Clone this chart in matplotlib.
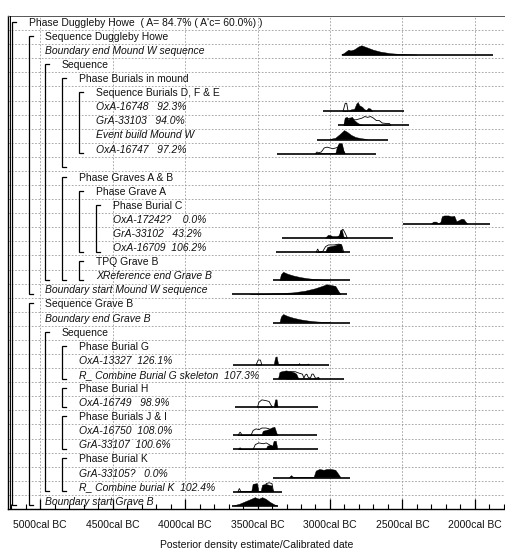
import matplotlib
matplotlib.use("Agg")
from matplotlib import pyplot as plt
from matplotlib.transforms import blended_transform_factory

plt.rcParams['font.family'] = ['Liberation Sans', 'DejaVu Sans']

# one entry per row, top to bottom
labels = [
    "Phase Duggleby Howe  ( A= 84.7% ( A'c= 60.0%) )",
    "Sequence Duggleby Howe",
    "Boundary end Mound W sequence",
    "Sequence",
    "Phase Burials in mound",
    "Sequence Burials D, F & E",
    "OxA-16748   92.3%",
    "GrA-33103   94.0%",
    "Event build Mound W",
    "OxA-16747   97.2%",
    "",
    "Phase Graves A & B",
    "Phase Grave A",
    "Phase Burial C",
    "OxA-17242?    0.0%",
    "GrA-33102   43.2%",
    "OxA-16709  106.2%",
    "TPQ Grave B",
    "XReference end Grave B",
    "Boundary start Mound W sequence",
    "Sequence Grave B",
    "Boundary end Grave B",
    "Sequence",
    "Phase Burial G",
    "OxA-13327  126.1%",
    "R_ Combine Burial G skeleton  107.3%",
    "Phase Burial H",
    "OxA-16749   98.9%",
    "Phase Burials J & I",
    "OxA-16750  108.0%",
    "GrA-33107  100.6%",
    "Phase Burial K",
    "GrA-33105?   0.0%",
    "R_ Combine burial K  102.4%",
    "Boundary start Grave B",
]
indent = [0, 1, 2, 2, 3, 4, 5, 5, 5, 5, 5, 3, 4, 5, 6, 6, 6, 4, 5, 2,
          1, 2, 2, 3, 4, 4, 3, 4, 3, 4, 4, 3, 4, 4, 2]

# (header row, last row) of each bracket
groups = [(0, 34), (1, 19), (3, 18), (4, 10), (5, 9), (11, 18), (12, 16),
          (13, 16), (17, 18), (20, 34), (22, 33), (23, 25), (26, 27),
          (28, 30), (31, 33)]

# modelled range line (cal BC from, to)
ranges = {
    2: (2917, 1876), 6: (3048, 2490), 7: (2945, 2455), 8: (3090, 2600),
    9: (3366, 2683), 14: (2497, 1897), 15: (3331, 2566), 16: (3372, 2862),
    18: (3393, 2862), 19: (3676, 2883), 21: (3393, 2862), 24: (3669, 3007),
    25: (3393, 2903), 27: (3655, 3083), 29: (3669, 3090), 30: (3669, 3083),
    32: (3393, 2862), 33: (3669, 3331), 34: (3676, 3359),
}

# posterior (filled) outlines: (cal BC, height in rows)
posterior = {
    2: [(2920, 0), (2900, 0.1), (2870, 0.3), (2855, 0.25), (2830, 0.32), (2800, 0.5),
        (2780, 0.57), (2750, 0.47), (2700, 0.3), (2650, 0.18), (2580, 0.08), (2500, 0.03),
        (2400, 0)],
    6: [(2870, 0), (2850, 0.1), (2830, 0.12), (2815, 0.45), (2805, 0.55), (2795, 0.35),
        (2775, 0.25), (2760, 0.1), (2745, 0.05), (2735, 0.18), (2720, 0.15), (2705, 0)],
    7: [(2905, 0), (2895, 0.45), (2880, 0.5), (2870, 0.35), (2860, 0.45), (2845, 0.5),
        (2830, 0.3), (2810, 0.15), (2790, 0.05), (2770, 0)],
    8: [(3000, 0), (2960, 0.08), (2930, 0.3), (2900, 0.55), (2880, 0.45), (2850, 0.25),
        (2820, 0.12), (2780, 0.05), (2740, 0)],
    9: [(2960, 0), (2950, 0.35), (2935, 0.6), (2915, 0.6), (2905, 0.2), (2895, 0)],
    14: [(2300, 0), (2285, 0.12), (2265, 0.12), (2250, 0.02), (2235, 0.1), (2225, 0.45),
         (2210, 0.5), (2180, 0.5), (2160, 0.45), (2140, 0.48), (2125, 0.15), (2110, 0.2),
         (2090, 0.3), (2075, 0.28), (2060, 0.1), (2050, 0)],
    15: [(3030, 0), (3010, 0.18), (2995, 0.15), (2980, 0.1), (2950, 0.1), (2935, 0.15),
         (2925, 0.45), (2915, 0.5), (2905, 0.1), (2895, 0)],
    16: [(3030, 0), (3015, 0.3), (2990, 0.35), (2960, 0.4), (2935, 0.5), (2920, 0.45),
         (2910, 0)],
    18: [(3345, 0), (3335, 0.35), (3320, 0.5), (3290, 0.38), (3250, 0.27), (3200, 0.17),
         (3150, 0.1), (3100, 0.05), (3050, 0.02), (3000, 0)],
    19: [(3550, 0), (3450, 0.02), (3350, 0.05), (3250, 0.1), (3170, 0.2), (3100, 0.35),
         (3050, 0.5), (3020, 0.6), (2990, 0.55), (2960, 0.5), (2940, 0.2), (2925, 0)],
    21: [(3345, 0), (3335, 0.35), (3320, 0.5), (3290, 0.38), (3250, 0.27), (3200, 0.17),
         (3150, 0.1), (3100, 0.05), (3050, 0.02), (3000, 0)],
    24: [(3385, 0), (3375, 0.45), (3365, 0.5), (3355, 0.05), (3345, 0), (3220, 0),
         (3210, 0.08), (3200, 0), (3160, 0), (3150, 0.06), (3140, 0)],
    25: [(3355, 0), (3345, 0.4), (3330, 0.45), (3300, 0.5), (3270, 0.45), (3250, 0.4),
         (3230, 0.3), (3215, 0)],
    27: [(3385, 0), (3375, 0.45), (3365, 0.45), (3358, 0)],
    29: [(3470, 0), (3460, 0.25), (3440, 0.3), (3420, 0.35), (3400, 0.45), (3380, 0.5),
         (3365, 0.1), (3360, 0)],
    30: [(3440, 0), (3430, 0.2), (3410, 0.25), (3395, 0.2), (3385, 0.5), (3370, 0.5),
         (3360, 0)],
    32: [(3280, 0), (3265, 0.12), (3250, 0), (3110, 0), (3095, 0.4), (3070, 0.5),
         (3040, 0.45), (3020, 0.5), (2990, 0.5), (2960, 0.45), (2940, 0.2), (2925, 0)],
    33: [(3540, 0), (3530, 0.45), (3500, 0.5), (3490, 0), (3475, 0), (3465, 0.4),
         (3440, 0.45), (3420, 0.4), (3400, 0.35), (3390, 0)],
    34: [(3660, 0), (3620, 0.1), (3580, 0.25), (3540, 0.4), (3515, 0.5), (3490, 0.4),
         (3465, 0.5), (3440, 0.4), (3410, 0.2), (3380, 0.05), (3365, 0)],
}

# prior (unmodelled) outlines
prior = {
    6: [(2910, 0), (2895, 0.5), (2885, 0.5), (2875, 0)],
    7: [(2900, 0), (2890, 0.4), (2860, 0.45), (2840, 0.35), (2820, 0.35), (2800, 0.4),
        (2780, 0.45), (2760, 0.55), (2740, 0.5), (2720, 0.55), (2700, 0.45), (2680, 0.3),
        (2660, 0.3), (2640, 0.15), (2610, 0.12), (2590, 0.12), (2580, 0)],
    9: [(3100, 0), (3090, 0.1), (3080, 0.05), (3060, 0.1), (3040, 0.35), (3020, 0.4),
        (3000, 0.35), (2980, 0.3), (2960, 0.35), (2945, 0.4), (2935, 0.6), (2920, 0.6),
        (2905, 0.1), (2895, 0)],
    15: [(2935, 0), (2925, 0.45), (2910, 0.55), (2895, 0.3), (2880, 0)],
    16: [(3095, 0), (3085, 0.2), (3075, 0), (3050, 0.05), (3030, 0.35), (3010, 0.45),
         (2970, 0.45), (2940, 0.5), (2920, 0.45), (2905, 0)],
    24: [(3510, 0), (3495, 0.3), (3480, 0.3), (3470, 0)],
    25: [(3300, 0), (3290, 0.4), (3270, 0.45), (3240, 0.45), (3210, 0.35), (3190, 0.3),
         (3180, 0.05), (3170, 0.25), (3160, 0.3), (3150, 0.1), (3135, 0.05), (3125, 0.3),
         (3115, 0.3), (3100, 0.05), (3090, 0.05), (3080, 0.1), (3070, 0)],
    27: [(3500, 0), (3490, 0.3), (3470, 0.45), (3440, 0.4), (3420, 0.35), (3405, 0.1),
         (3395, 0)],
    29: [(3635, 0), (3620, 0.2), (3605, 0), (3545, 0), (3530, 0.3), (3510, 0.4),
         (3490, 0.35), (3470, 0.45), (3440, 0.45), (3420, 0.4), (3400, 0.3), (3380, 0)],
    30: [(3630, 0), (3620, 0.1), (3610, 0), (3530, 0), (3515, 0.3), (3490, 0.4),
         (3460, 0.35), (3440, 0.4), (3420, 0.3), (3400, 0.2), (3385, 0)],
    33: [(3635, 0), (3625, 0.2), (3615, 0), (3450, 0), (3440, 0.5), (3420, 0.55),
         (3400, 0.5), (3390, 0)],
}

tick_years = [5000, 4500, 4000, 3500, 3000, 2500, 2000]

# pixel columns used for the bracket / label indentation
indent_px = [12, 29, 45, 62, 79, 96, 113]
hscale = 1.15  # drawn peak height relative to row

fig = plt.figure(figsize=(5.06, 5.49), dpi=100)
ax = fig.add_axes([8 / 506, 40 / 549, 498 / 506, 493 / 549])
n = len(labels)
ax.set_xlim(-5221, -1786)
ax.set_ylim(n - 0.5, -0.5)

# grid
for i in range(n - 1):
    ax.axhline(i + 0.5, color='#9a9a9a', lw=0.6, ls=(0, (2, 2)), zorder=0)
for yr in tick_years:
    ax.axvline(-yr, color='#9a9a9a', lw=0.6, ls=(0, (2, 2)), zorder=0)

tr = blended_transform_factory(ax.transAxes, ax.transData)
def fx(px):
    return (px - 8) / 498.0

heads = set(g[0] for g in groups)
for i, lab in enumerate(labels):
    if not lab:
        continue
    if i in heads:
        x = fx(indent_px[indent[i] + 1])
        style = 'normal'
    else:
        x = fx(indent_px[indent[i]])
        style = 'italic'
    ax.text(x, i - 0.02, lab, transform=tr, ha='left', va='center',
            fontsize=7.5, style=style, color='#111111', zorder=5)

for h, e in groups:
    x = fx(indent_px[indent[h]])
    dx = 4 / 498.0
    ax.plot([x + dx, x, x, x + dx], [h - 0.1, h - 0.1, e + 0.25, e + 0.25],
            transform=tr, color='black', lw=0.9, solid_joinstyle='miter', zorder=4)
# second frame line on the left
ax.plot([fx(10), fx(10)], [-0.5, n - 0.5], transform=tr, color='black', lw=0.7, zorder=4)

# distributions
for i, (a, b) in ranges.items():
    base = i + 0.27
    if i in prior:
        xs = [-p[0] for p in prior[i]]
        ys = [base - hscale * p[1] for p in prior[i]]
        ax.fill(xs, ys, facecolor='white', edgecolor='black', lw=0.6, zorder=2)
    if i in posterior:
        xs = [-p[0] for p in posterior[i]]
        ys = [base - hscale * p[1] for p in posterior[i]]
        ax.fill(xs, ys, facecolor='black', edgecolor='black', lw=0.3, zorder=3)
    ax.plot([-a, -b], [base, base], color='black', lw=1.2, solid_capstyle='butt', zorder=3)

# axes
ax.spines['right'].set_visible(False)
ax.spines['top'].set_color('#555555')
ax.spines['top'].set_linewidth(0.7)
ax.spines['left'].set_linewidth(1.0)
ax.spines['bottom'].set_linewidth(1.0)
ax.set_yticks([])
ax.set_xticks([-y for y in tick_years])
ax.set_xticklabels([f"{y}cal BC" for y in tick_years], fontsize=7.5, color='#111111')
ax.set_xticks([-y for y in range(5200, 1700, -100)], minor=True)
ax.tick_params(axis='x', which='major', direction='in', length=7, width=0.9, pad=8)
ax.tick_params(axis='x', which='minor', direction='in', length=3.5, width=0.8)
ax.set_xlabel("Posterior density estimate/Calibrated date", fontsize=7.5,
              color='#111111', labelpad=7)

fig.savefig("out.png", dpi=100)
